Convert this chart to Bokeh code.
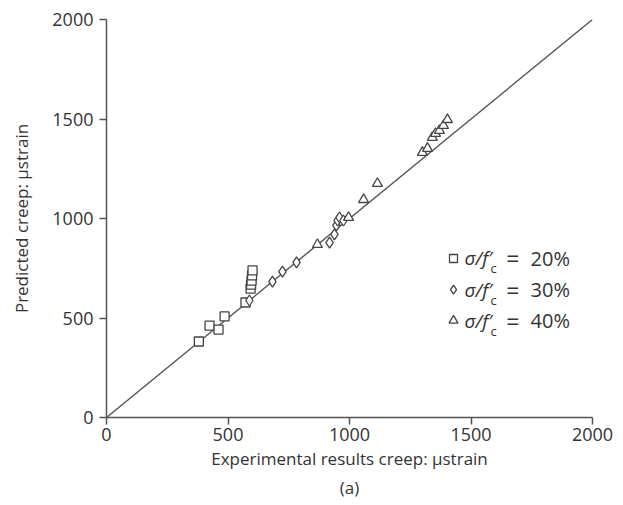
from bokeh.plotting import figure
from bokeh.models import Range1d, Label, Title, FixedTicker
from bokeh.embed import file_html
from bokeh.resources import INLINE

# --- data ---
sq_x = [380, 424, 461, 486, 572, 593, 595, 597, 599, 601]
sq_y = [382, 462, 442, 508, 578, 648, 668, 688, 714, 739]

di_x = [588, 683, 724, 782, 918, 938, 946, 951, 959, 975]
di_y = [588, 683, 733, 779, 879, 920, 965, 990, 1005, 990]

tr_x = [868, 996, 1058, 1115, 1300, 1321, 1341, 1354, 1370, 1387, 1403]
tr_y = [869, 1005, 1095, 1176, 1332, 1352, 1407, 1427, 1442, 1467, 1497]

line_x = [0, 2000]
line_y = [0, 2000]

ticks = [0, 500, 1000, 1500, 2000]
legend_labels = ["20%", "30%", "40%"]

FONT = "Open Sans"
TXT = "#333333"
INK = "#444444"

p = figure(width=623, height=505, output_backend="svg", toolbar_location=None,
           x_range=Range1d(0, 2000), y_range=Range1d(0, 2000),
           min_border_left=106, min_border_right=31, min_border_top=19, min_border_bottom=88)
p.outline_line_color = None
p.xgrid.visible = False
p.ygrid.visible = False

for ax in (p.xaxis[0], p.yaxis[0]):
    ax.ticker = FixedTicker(ticks=ticks)
    ax.minor_tick_line_color = None
    ax.major_tick_in = 0
    ax.major_tick_out = 7
    ax.axis_line_color = "#555555"
    ax.axis_line_width = 1.5
    ax.major_tick_line_color = "#555555"
    ax.major_tick_line_width = 1.5
    ax.major_label_text_font = FONT
    ax.major_label_text_font_size = "18px"
    ax.major_label_text_color = TXT
    ax.axis_label_text_font = FONT
    ax.axis_label_text_font_size = "17px"
    ax.axis_label_text_color = TXT
    ax.axis_label_text_font_style = "normal"

p.xaxis.axis_label = "Experimental results creep: \u03bcstrain"
p.yaxis.axis_label = "Predicted creep: \u03bcstrain"
p.xaxis.axis_label_standoff = 3
p.yaxis.axis_label_standoff = 16
p.xaxis.major_label_standoff = 3
p.yaxis.major_label_standoff = 6

p.add_layout(Title(text="(a)", align="center", text_font=FONT, text_font_size="17px",
                   text_color=TXT, text_font_style="normal", standoff=2), "below")

p.line(line_x, line_y, line_color="#555555", line_width=1.4)

mk = dict(fill_color="white", line_color=INK, line_width=1.3)
p.scatter(sq_x, sq_y, marker="square", size=9, **mk)
p.scatter(di_x, di_y, marker="diamond", size=11, **mk)
p.scatter(tr_x, tr_y, marker="triangle", size=10, **mk)

# legend
leg_y = [799, 643, 487]
markers = ["square", "diamond", "triangle"]
msizes = [8, 9, 9]
for yy, m, s, lab in zip(leg_y, markers, msizes, legend_labels):
    p.scatter([1428], [yy], marker=m, size=s, **mk)
    p.add_layout(Label(x=1473, y=yy, text="\u03c3/f\u2032", text_font=FONT, text_font_size="19px",
                       text_font_style="italic", text_color=TXT, text_baseline="middle"))
    p.add_layout(Label(x=1580, y=yy, y_offset=-10, text="c", text_font=FONT, text_font_size="13px",
                       text_color=TXT, text_baseline="middle"))
    p.add_layout(Label(x=1645, y=yy, text="=", text_font=FONT, text_font_size="23px",
                       text_color=TXT, text_baseline="middle"))
    p.add_layout(Label(x=1745, y=yy, text=lab, text_font=FONT, text_font_size="20px",
                       text_color=TXT, text_baseline="middle"))

open("out.html", "w").write(file_html(p, INLINE))
